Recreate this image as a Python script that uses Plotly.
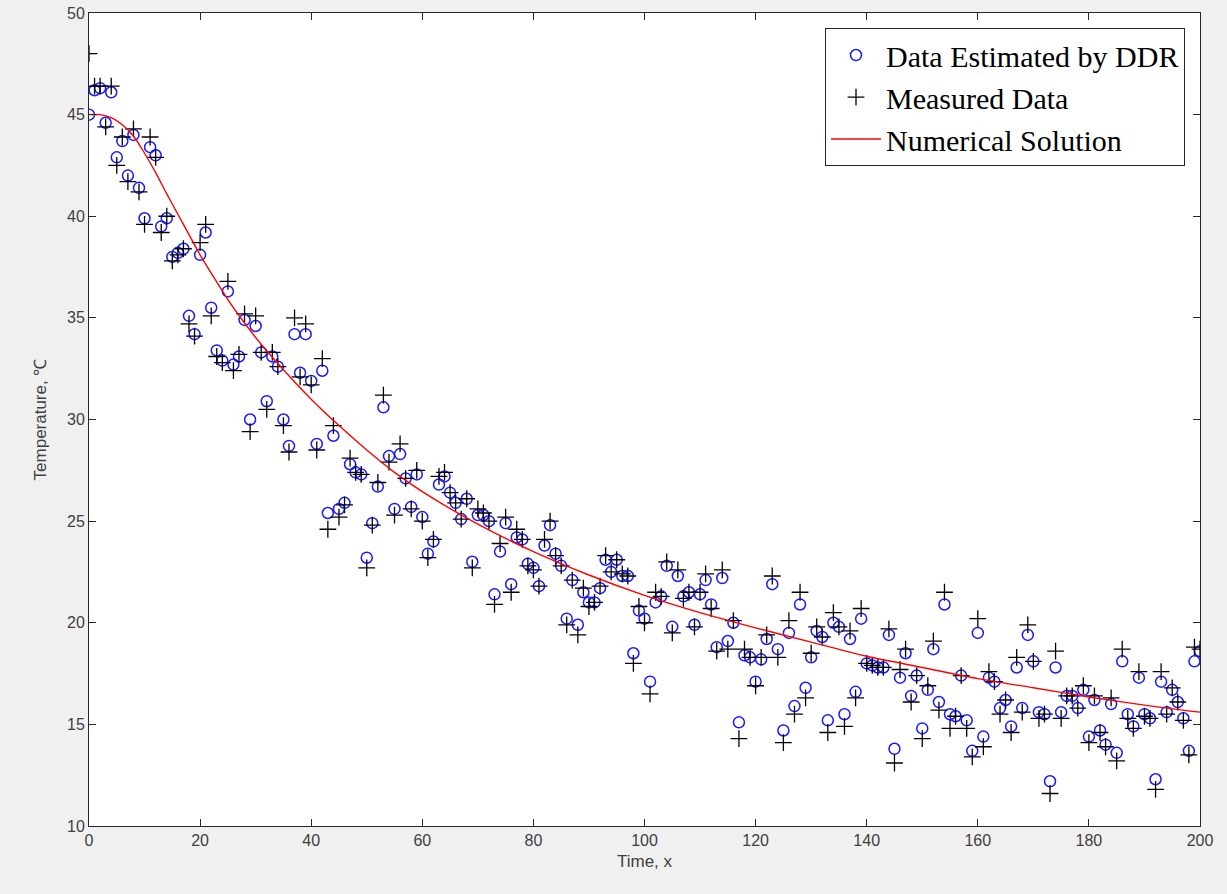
import plotly.graph_objects as go

time_x = list(range(0, 201))

ddr_estimated = [
    45.0, 46.2, 46.3, 44.6, 46.1, 42.9, 43.7, 42.0, 44.0, 41.4,
    39.9, 43.4, 43.0, 39.5, 39.9, 38.0, 38.2, 38.4, 35.1, 34.2,
    38.1, 39.2, 35.5, 33.4, 32.9, 36.3, 32.7, 33.1, 34.9, 30.0,
    34.6, 33.3, 30.9, 33.1, 32.6, 30.0, 28.7, 34.2, 32.3, 34.2,
    31.9, 28.8, 32.4, 25.4, 29.2, 25.6, 25.9, 27.8, 27.4, 27.3,
    23.2, 24.9, 26.7, 30.6, 28.2, 25.6, 28.3, 27.1, 25.7, 27.3,
    25.2, 23.4, 24.0, 26.8, 27.2, 26.4, 25.9, 25.1, 26.1, 23.0,
    25.3, 25.3, 25.0, 21.4, 23.5, 24.9, 21.9, 24.2, 24.1, 22.9,
    22.7, 21.8, 23.8, 24.8, 23.4, 22.8, 20.2, 22.1, 19.9, 21.5,
    21.0, 21.0, 21.7, 23.1, 22.5, 23.1, 22.3, 22.3, 18.5, 20.6,
    20.2, 17.1, 21.0, 21.3, 22.8, 19.8, 22.3, 21.3, 21.5, 19.9,
    21.4, 22.1, 20.9, 18.8, 22.2, 19.1, 20.0, 15.1, 18.4, 18.3,
    17.1, 18.2, 19.2, 21.9, 18.7, 14.7, 19.5, 15.9, 20.9, 16.8,
    18.3, 19.6, 19.3, 15.2, 20.0, 19.8, 15.5, 19.2, 16.6, 20.2,
    18.0, 17.9, 17.8, 17.8, 19.4, 13.8, 17.3, 18.5, 16.4, 17.4,
    14.8, 16.7, 18.7, 16.1, 20.9, 15.5, 15.4, 17.4, 15.2, 13.7,
    19.5, 14.4, 17.3, 17.1, 15.8, 16.2, 14.9, 17.8, 15.8, 19.4,
    18.1, 15.6, 15.5, 12.2, 17.8, 15.6, 16.4, 16.4, 15.8, 16.7,
    14.4, 16.2, 14.7, 14.0, 16.0, 13.6, 18.1, 15.5, 14.9, 17.3,
    15.5, 15.3, 12.3, 17.1, 15.6, 16.7, 16.1, 15.3, 13.7, 18.1,
    18.6,
]

measured = [
    48.0, 46.4, 46.4, 44.4, 46.4, 42.5, 43.9, 41.7, 44.3, 41.2,
    39.6, 43.9, 42.9, 39.2, 40.0, 37.8, 38.1, 38.4, 34.7, 34.1,
    38.7, 39.6, 35.1, 33.1, 32.8, 36.8, 32.4, 33.2, 35.2, 29.4,
    35.1, 33.3, 30.5, 33.3, 32.6, 29.7, 28.4, 35.0, 32.1, 34.7,
    31.7, 28.5, 33.0, 24.6, 29.7, 25.2, 25.8, 28.1, 27.4, 27.3,
    22.7, 24.8, 26.9, 31.2, 27.9, 25.3, 28.8, 27.1, 25.6, 27.5,
    25.0, 23.2, 24.1, 27.2, 27.4, 26.4, 25.9, 25.1, 26.1, 22.7,
    25.6, 25.4, 25.0, 20.9, 23.9, 25.2, 21.5, 24.6, 24.1, 22.8,
    22.6, 21.8, 24.1, 25.0, 23.3, 22.8, 19.9, 22.1, 19.4, 21.7,
    20.8, 21.0, 21.8, 23.3, 22.5, 23.1, 22.4, 22.3, 18.0, 20.8,
    20.0, 16.5, 21.5, 21.3, 23.0, 19.5, 22.6, 21.2, 21.5, 19.8,
    21.5, 22.4, 20.7, 18.6, 22.6, 18.7, 20.1, 14.3, 18.7, 18.3,
    16.9, 18.3, 19.4, 22.3, 18.3, 14.1, 20.1, 15.5, 21.5, 16.3,
    18.5, 19.8, 19.3, 14.6, 20.5, 19.8, 14.9, 19.6, 16.3, 20.7,
    18.0, 17.9, 17.8, 17.8, 19.7, 13.1, 17.7, 18.7, 16.1, 17.4,
    14.3, 16.9, 19.1, 15.7, 21.5, 14.8, 15.4, 17.4, 14.8, 13.4,
    20.2, 13.9, 17.6, 17.1, 15.5, 16.2, 14.6, 18.3, 15.6, 19.9,
    18.1, 15.3, 15.5, 11.6, 18.6, 15.3, 16.4, 16.4, 15.8, 16.9,
    14.1, 16.4, 14.6, 13.9, 16.3, 13.2, 18.7, 15.3, 14.8, 17.6,
    15.4, 15.3, 11.8, 17.6, 15.5, 16.8, 16.1, 15.2, 13.5, 18.8,
    18.7,
]

solution_x = [0, 2, 4, 6, 8, 10, 12, 14, 16, 18, 20, 22, 25, 28, 31, 35, 40,
              45, 50, 55, 60, 70, 80, 90, 100, 110, 120, 130, 140, 150, 160,
              170, 180, 190, 200]
solution_y = [45.0, 45.0, 44.85, 44.5, 43.95, 43.1, 42.15, 41.1, 40.1, 39.1,
              38.1, 37.2, 35.9, 34.75, 33.7, 32.45, 31.0, 29.7, 28.5, 27.4,
              26.45, 24.85, 23.5, 22.35, 21.35, 20.5, 19.75, 19.05, 18.35,
              17.8, 17.25, 16.8, 16.35, 15.95, 15.6]

x_ticks = list(range(0, 201, 20))
y_ticks = list(range(10, 51, 5))

fig = go.Figure()
fig.add_trace(go.Scatter(
    x=time_x, y=ddr_estimated, mode="markers", name="Data Estimated by DDR",
    marker=dict(symbol="circle-open", size=11, color="#1a1aff", line=dict(width=1.5, color="#1a1aff")),
))
fig.add_trace(go.Scatter(
    x=time_x, y=measured, mode="markers", name="Measured Data",
    marker=dict(symbol="cross-thin", size=12, color="black", line=dict(width=1.3, color="black")),
))
fig.add_trace(go.Scatter(
    x=solution_x, y=solution_y, mode="lines", name="Numerical Solution",
    line=dict(color="#ff0000", width=1.4, shape="spline", smoothing=0.8),
))

axis_common = dict(
    showline=True, linecolor="#262626", linewidth=1, mirror="ticks",
    ticks="inside", ticklen=7, tickcolor="#262626", showgrid=False, zeroline=False,
    automargin=False,
    tickfont=dict(family="Liberation Sans, Arial, sans-serif", size=16, color="#404040"),
)

fig.update_layout(
    width=1227, height=894,
    paper_bgcolor="#f0f0f0", plot_bgcolor="white",
    margin=dict(l=89, r=27, t=13, b=68, autoexpand=False),
    showlegend=True,
    legend=dict(
        x=0.9865, y=0.9815, xanchor="right", yanchor="top",
        bgcolor="white", bordercolor="#262626", borderwidth=1,
        font=dict(family="Liberation Serif, Times New Roman, serif", size=30, color="#000000"),
        tracegroupgap=0, itemwidth=50,
    ),
    xaxis=dict(range=[0, 200], tickvals=x_ticks,
               title=dict(text="Time, x", standoff=6,
                          font=dict(family="Liberation Sans, Arial, sans-serif", size=17, color="#404040")),
               **axis_common),
    yaxis=dict(range=[10, 50], tickvals=y_ticks,
               title=dict(text="Temperature, ℃", standoff=16,
                          font=dict(family="Liberation Sans, Arial, sans-serif", size=17, color="#404040")),
               **axis_common),
)

fig.write_html(
    "out.html",
    config={"displayModeBar": False},
    post_script="document.body.style.margin='0';document.body.style.background='#f0f0f0';",
)
